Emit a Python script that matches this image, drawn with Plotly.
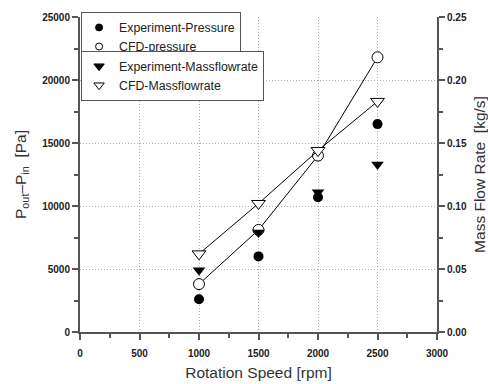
import plotly.graph_objects as go

# Rotation speed of the pump [rpm]
rpm = [1000, 1500, 2000, 2500]

# Pressure rise P_out - P_in [Pa]
exp_pressure = [2600, 6000, 10700, 16500]
cfd_pressure = [3800, 8100, 14000, 21800]

# Mass flow rate [kg/s]
exp_massflow = [0.049, 0.079, 0.111, 0.133]
cfd_massflow = [0.062, 0.102, 0.144, 0.183]

x_ticks = [0, 500, 1000, 1500, 2000, 2500, 3000]
y_ticks = [0, 5000, 10000, 15000, 20000, 25000]
y2_ticks = [0.00, 0.05, 0.10, 0.15, 0.20, 0.25]

AX = "#555555"
GRID = "#b0b0b0"
FONT = "Arial, Liberation Sans, sans-serif"

fig = go.Figure()

# data series (legend entries are added separately with smaller symbols)
fig.add_trace(go.Scatter(
    x=rpm, y=exp_pressure, mode="markers", showlegend=False,
    marker=dict(symbol="circle", size=10, color="black"), yaxis="y"))
fig.add_trace(go.Scatter(
    x=rpm, y=cfd_pressure, mode="lines+markers", showlegend=False,
    line=dict(color="black", width=1),
    marker=dict(symbol="circle", size=11, color="white",
                line=dict(color="black", width=1)), yaxis="y"))
fig.add_trace(go.Scatter(
    x=rpm, y=exp_massflow, mode="markers", showlegend=False,
    marker=dict(symbol="triangle-down", size=11, color="black"), yaxis="y2"))
fig.add_trace(go.Scatter(
    x=rpm, y=cfd_massflow, mode="lines+markers", showlegend=False,
    line=dict(color="black", width=1),
    marker=dict(symbol="triangle-down", size=12, color="white",
                line=dict(color="black", width=1)), yaxis="y2"))

# legend entries
legend_items = [
    ("Experiment-Pressure", "circle", "black", 7, "legend"),
    ("CFD-pressure", "circle", "white", 7, "legend"),
    ("Experiment-Massflowrate", "triangle-down", "black", 9, "legend2"),
    ("CFD-Massflowrate", "triangle-down", "white", 9, "legend2"),
]
for name, sym, fill, size, leg in legend_items:
    fig.add_trace(go.Scatter(
        x=[None], y=[None], mode="markers", name=name, legend=leg,
        marker=dict(symbol=sym, size=size, color=fill,
                    line=dict(color="black", width=1))))

tickfont = dict(family=FONT, size=10, color="#222222", weight="bold")
titlefont = dict(family=FONT, size=15.5, color="#333333")

legend_style = dict(
    xanchor="left", yanchor="top",
    bgcolor="white", bordercolor=AX, borderwidth=1,
    font=dict(family=FONT, size=12.3, color="#222222"),
    itemsizing="trace", tracegroupgap=0,
    itemwidth=30, indentation=-3)

fig.update_layout(
    width=488, height=384,
    margin=dict(l=80, r=51, t=15, b=52),
    paper_bgcolor="white", plot_bgcolor="white",
    font=dict(family=FONT, color="#222222"),
    xaxis=dict(
        range=[0, 3000], tickvals=x_ticks, ticks="outside", ticklen=6,
        tickwidth=1.5, tickcolor=AX, showline=True, linecolor=AX, linewidth=2,
        showgrid=True, gridcolor=GRID, griddash="1px,2px", gridwidth=1,
        zeroline=False, tickfont=tickfont, ticklabelstandoff=5,
        automargin=False,
        minor=dict(ticks="outside", ticklen=4, dtick=250, tickcolor=AX,
                   showgrid=False),
        title=dict(text="Rotation Speed [rpm]", font=titlefont, standoff=9)),
    yaxis=dict(
        range=[0, 25000], tickvals=y_ticks, tickformat="d",
        ticks="outside", ticklen=6,
        tickwidth=1.5, tickcolor=AX, showline=True, linecolor=AX, linewidth=2,
        showgrid=True, gridcolor=GRID, griddash="1px,2px", gridwidth=1,
        zeroline=False, tickfont=tickfont, automargin=False,
        minor=dict(ticks="outside", ticklen=4, dtick=2500, tickcolor=AX,
                   showgrid=False),
        title=dict(text="P<sub>out</sub>\u2013P<sub>in</sub>  [Pa]",
                   font=titlefont, standoff=12)),
    yaxis2=dict(
        range=[0, 0.25], tickvals=y2_ticks, tickformat=".2f",
        overlaying="y", side="right", ticks="outside", ticklen=6,
        tickwidth=1.5, tickcolor=AX, showline=True, linecolor=AX, linewidth=2,
        showgrid=False, zeroline=False, tickfont=tickfont, automargin=False,
        minor=dict(ticks="outside", ticklen=4, dtick=0.025, tickcolor=AX),
        title=dict(text="Mass Flow Rate  [kg/s]", font=titlefont, standoff=10)),
    legend=dict(x=0.003, y=1.016, **legend_style),
    legend2=dict(x=0.003, y=0.893, **legend_style),
)

fig.write_html("out.html")
